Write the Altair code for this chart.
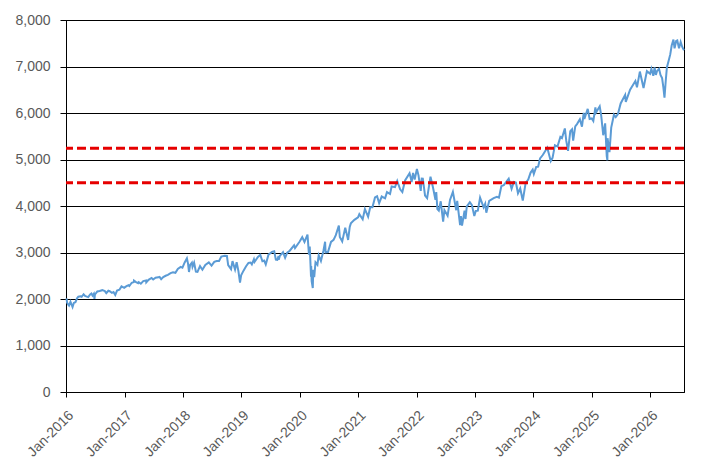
import altair as alt
import pandas as pd

# ---- data (approximate closing levels) ----
s2016 = [("2016-01-04",2012),("2016-01-08",1922),("2016-01-15",1880),("2016-01-20",1859),("2016-01-29",1940),
         ("2016-02-05",1880),("2016-02-11",1829),("2016-02-19",1917),("2016-02-29",1932),("2016-03-11",2022),
         ("2016-03-18",2049),("2016-03-31",2060),("2016-04-08",2048),("2016-04-20",2102),("2016-04-29",2065),
         ("2016-05-06",2057),("2016-05-19",2040),("2016-05-31",2097),("2016-06-08",2119),("2016-06-15",2072),
         ("2016-06-23",2113),("2016-06-27",2001),("2016-06-30",2099),("2016-07-08",2130),("2016-07-15",2162),
         ("2016-07-29",2174),("2016-08-15",2190),("2016-08-31",2171),("2016-09-09",2128),("2016-09-22",2177),
         ("2016-09-30",2168),("2016-10-14",2133),("2016-10-24",2151),("2016-11-04",2085),("2016-11-15",2180),
         ("2016-11-30",2199),("2016-12-13",2271),("2016-12-30",2239)]
s2017 = [("2017-01-13",2275),("2017-01-26",2296),("2017-01-31",2279),("2017-02-15",2349),("2017-02-28",2364),
         ("2017-03-01",2396),("2017-03-14",2365),("2017-03-27",2342),("2017-03-31",2363),("2017-04-13",2329),
         ("2017-04-28",2384),("2017-05-16",2400),("2017-05-17",2357),("2017-05-31",2412),("2017-06-19",2453),
         ("2017-06-29",2419),("2017-07-14",2459),("2017-07-31",2470),("2017-08-08",2475),("2017-08-18",2425),
         ("2017-08-31",2472),("2017-09-15",2500),("2017-09-29",2519),("2017-10-16",2557),("2017-10-31",2575),
         ("2017-11-15",2564),("2017-11-30",2648),("2017-12-18",2690),("2017-12-29",2674)]
s2018 = [("2018-01-12",2786),("2018-01-26",2873),("2018-02-02",2762),("2018-02-08",2581),("2018-02-15",2732),
         ("2018-02-26",2780),("2018-03-02",2691),("2018-03-12",2783),("2018-03-23",2588),("2018-04-02",2582),
         ("2018-04-18",2708),("2018-05-03",2630),("2018-05-21",2733),("2018-06-12",2786),("2018-06-29",2718),
         ("2018-07-16",2798),("2018-07-31",2816),("2018-08-15",2818),("2018-08-29",2914),("2018-09-20",2931),
         ("2018-10-03",2926),("2018-10-11",2728),("2018-10-29",2641),("2018-11-07",2814),("2018-11-23",2633),
         ("2018-12-03",2790),("2018-12-14",2600),("2018-12-24",2351),("2018-12-31",2507)]
s2019 = [("2019-01-15",2610),("2019-01-31",2704),("2019-02-15",2776),("2019-02-28",2784),("2019-03-08",2743),
         ("2019-03-21",2855),("2019-03-25",2799),("2019-04-15",2906),("2019-04-30",2946),("2019-05-13",2812),
         ("2019-05-24",2826),("2019-06-03",2744),("2019-06-20",2954),("2019-07-12",3014),("2019-07-26",3026),
         ("2019-08-05",2845),("2019-08-14",2840),("2019-08-22",2923),("2019-08-23",2847),("2019-08-30",2926),
         ("2019-09-19",3006),("2019-10-02",2888),("2019-10-15",2995),("2019-10-31",3038),("2019-11-27",3154),
         ("2019-12-03",3093),("2019-12-31",3231)]
s2020 = [("2020-01-17",3330),("2020-01-31",3226),("2020-02-19",3386),("2020-02-28",2954),("2020-03-04",3130),
         ("2020-03-12",2481),("2020-03-13",2711),("2020-03-16",2386),("2020-03-23",2237),("2020-03-26",2630),
         ("2020-04-01",2471),("2020-04-09",2790),("2020-04-21",2737),("2020-04-29",2940),("2020-05-13",2820),
         ("2020-05-29",3044),("2020-06-08",3232),("2020-06-11",3002),("2020-06-26",3009),("2020-07-15",3227),
         ("2020-07-31",3271),("2020-08-14",3373),("2020-09-02",3580),("2020-09-08",3332),("2020-09-23",3237),
         ("2020-10-12",3535),("2020-10-30",3270),("2020-11-09",3550),("2020-11-16",3627),("2020-12-08",3702),
         ("2020-12-31",3756)]
s2021 = [("2021-01-08",3825),("2021-01-29",3714),("2021-02-12",3934),("2021-03-04",3768),("2021-03-17",3974),
         ("2021-03-31",3973),("2021-04-16",4185),("2021-04-29",4211),("2021-05-12",4063),("2021-05-28",4204),
         ("2021-06-18",4166),("2021-06-30",4298),("2021-07-19",4258),("2021-07-29",4419),("2021-08-19",4406),
         ("2021-09-02",4537),("2021-09-20",4358),("2021-10-04",4300),("2021-10-21",4549),("2021-11-18",4705),
         ("2021-11-26",4595),("2021-12-01",4513),("2021-12-10",4712),("2021-12-20",4568)]
s2022 = [("2022-01-03",4796),("2022-01-13",4659),("2022-01-27",4326),("2022-02-02",4589),("2022-02-09",4587),
         ("2022-02-23",4225),("2022-03-08",4170),("2022-03-29",4632),("2022-04-14",4393),("2022-04-29",4132),
         ("2022-05-04",4300),("2022-05-11",3935),("2022-05-20",3901),("2022-06-01",4101),("2022-06-16",3666),
         ("2022-06-24",3912),("2022-07-14",3790),("2022-07-29",4130),("2022-08-16",4305),("2022-09-06",3909),
         ("2022-09-12",4110),("2022-09-30",3586),("2022-10-05",3783),("2022-10-12",3577),("2022-10-28",3901),
         ("2022-11-03",3720),("2022-11-11",3993),("2022-11-30",4080),("2022-12-13",4019),("2022-12-28",3783)]
s2023 = [("2023-01-06",3895),("2023-01-19",3899),("2023-02-02",4179),("2023-02-24",3970),("2023-03-06",4048),
         ("2023-03-13",3855),("2023-03-31",4109),("2023-04-28",4169),("2023-05-18",4198),("2023-05-31",4180),
         ("2023-06-15",4426),("2023-06-30",4450),("2023-07-31",4589),("2023-08-18",4370),("2023-09-01",4516),
         ("2023-09-14",4505),("2023-09-27",4274),("2023-10-11",4377),("2023-10-27",4117),("2023-11-14",4496),
         ("2023-11-30",4568),("2023-12-15",4719),("2023-12-28",4783)]
s2024 = [("2024-01-04",4688),("2024-01-19",4840),("2024-01-31",4846),("2024-02-12",5022),("2024-02-29",5096),
         ("2024-03-28",5254),("2024-04-19",4967),("2024-04-30",5036),("2024-05-15",5308),("2024-05-31",5278),
         ("2024-06-18",5487),("2024-06-28",5460),("2024-07-16",5667),("2024-07-25",5399),("2024-08-05",5186),
         ("2024-08-19",5608),("2024-08-30",5648),("2024-09-06",5408),("2024-09-19",5713),("2024-09-30",5762),
         ("2024-10-18",5864),("2024-10-31",5705),("2024-11-11",6001),("2024-11-15",5870),("2024-12-06",6090),
         ("2024-12-18",5872),("2024-12-31",5882)]
s2025 = [("2025-01-10",5827),("2025-01-23",6119),("2025-01-27",6012),("2025-02-19",6144),("2025-02-28",5955),
         ("2025-03-13",5522),("2025-03-25",5777),("2025-04-04",5074),("2025-04-08",4982),("2025-04-09",5457),
         ("2025-04-21",5158),("2025-05-02",5686),("2025-05-19",5963),("2025-05-30",5912),("2025-06-13",5977),
         ("2025-06-30",6205),("2025-07-28",6390),("2025-08-01",6238),("2025-08-28",6502),("2025-09-30",6688),
         ("2025-10-10",6552),("2025-10-28",6891),("2025-11-20",6538),("2025-12-11",6901),("2025-12-31",6845)]
s2026 = [("2026-01-08",6950),("2026-01-20",6800),("2026-01-28",6980),("2026-02-05",6820),("2026-02-12",6900),
         ("2026-02-25",6950),("2026-03-06",6820),("2026-03-16",6750),("2026-03-24",6550),("2026-03-31",6330),
         ("2026-04-08",6700),("2026-04-15",6980),("2026-04-28",7150),("2026-05-06",7260),("2026-05-15",7450),
         ("2026-05-26",7580),("2026-06-02",7390),("2026-06-12",7550),("2026-06-19",7560),("2026-06-30",7390),
         ("2026-07-10",7530),("2026-07-20",7420),("2026-07-31",7350)]

levels = [5240, 4500]
y_ticks = [0, 1000, 2000, 3000, 4000, 5000, 6000, 7000, 8000]
years = list(range(2016, 2027))

rows = s2016 + s2017 + s2018 + s2019 + s2020 + s2021 + s2022 + s2023 + s2024 + s2025 + s2026
df = pd.DataFrame(rows, columns=["date", "value"])
lv = pd.DataFrame({"level": levels})

x_scale = alt.Scale(
    type="utc",
    domain=[alt.DateTime(year=2016, month=1, date=1, utc=True),
            alt.DateTime(year=2026, month=7, date=31, utc=True)],
    nice=False,
)
y_scale = alt.Scale(domain=[0, 8000], nice=False)

x_axis = alt.Axis(
    values=[alt.DateTime(year=y, month=1, date=1, utc=True) for y in years],
    labelExpr="utcFormat(datum.value, '%b') + '-' + utcFormat(datum.value, '%Y')",
    labelAngle=-45, labelAlign="right", labelBaseline="top", labelPadding=11,
    labelLimit=300, labelOverlap=False, tickSize=5, tickColor="black",
    domainColor="black", grid=False, title=None, labelColor="#595959",
    labelFontSize=14, labelFont="Liberation Sans",
)
y_axis = alt.Axis(
    values=y_ticks, format=",d", grid=True, gridColor="black", gridWidth=1,
    gridOpacity=1, tickSize=6, tickColor="black", domainColor="black",
    labelPadding=10, title=None, labelColor="#595959", labelFontSize=14,
    labelFont="Liberation Sans",
)

line = alt.Chart(df).mark_line(color="#5B9BD5", strokeWidth=2).encode(
    x=alt.X("date:T", scale=x_scale, axis=x_axis),
    y=alt.Y("value:Q", scale=y_scale, axis=y_axis),
)

rules = alt.Chart(lv).mark_rule(color="#e60000", strokeWidth=3, strokeDash=[9, 4]).encode(
    y=alt.Y("level:Q", scale=y_scale),
)

chart = alt.layer(line, rules).properties(
    width=618, height=372,
    autosize=alt.AutoSizeParams(type="none"),
    padding={"left": 58, "top": 12, "right": 27, "bottom": 72},
    background="white",
).configure_view(stroke="black", strokeWidth=1)

chart.save("out.html", embed_options={"renderer": "svg", "actions": False})
